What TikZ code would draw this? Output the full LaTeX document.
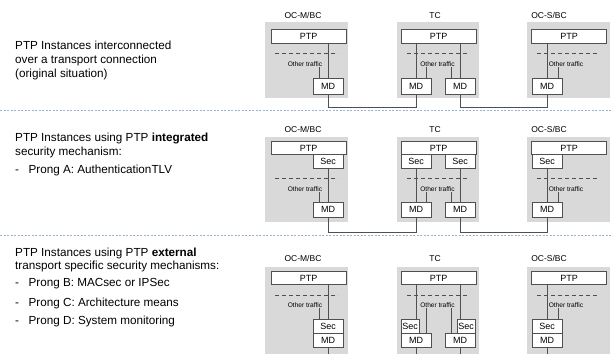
\documentclass[tikz,border=0pt]{standalone}
\usepackage{fontspec}
\setmainfont{Liberation Sans}
\usepackage{tikz}
\usetikzlibrary{calc}
\definecolor{devgrey}{HTML}{D9D9D9}
\definecolor{linegrey}{HTML}{505050}
\definecolor{sepblue}{HTML}{9DB3CC}
\tikzset{%
devbox/.style={fill=devgrey,inner sep=0pt,minimum width=83pt},%
blk/.style={draw=linegrey,fill=white,inner sep=0pt,line width=0.6pt,font=\fontsize{9}{10}\selectfont},%
ptpblk/.style={blk,minimum width=75pt,minimum height=13pt},%
mdblk/.style={blk,minimum width=30pt,minimum height=15pt},%
secblk/.style={blk,minimum width=30pt,minimum height=14pt},%
wire/.style={linegrey,line width=0.7pt},%
trafficline/.style={linegrey,line width=0.7pt,dash pattern=on 4pt off 3pt},%
othertxt/.style={inner sep=0pt,font=\fontsize{6.6}{8}\selectfont},%
unitlabel/.style={anchor=base,inner sep=0pt,font=\fontsize{8.5}{10}\selectfont},%
leftline/.style={anchor=base west,inner sep=0pt,font=\fontsize{11.7}{14}\selectfont},%
sepline/.style={sepblue,line width=0.6pt,dash pattern=on 2pt off 1.5pt},%
}
\begin{document}
\begin{tikzpicture}[x=1pt,y=-1pt]%
\useasboundingbox (0,0) rectangle (613,354);%
\coordinate (bot) at (0,354);%
\draw[sepline] (0,110) -- (613,110);%
\draw[sepline] (0,235) -- (613,235);%
\node[leftline] (r1a) at (15,49) {PTP Instances interconnected};%
\node[leftline] (r1b) at (15,63.5) {over a transport connection};%
\node[leftline] (r1c) at (15,77) {(original situation)};%
\node[leftline] (r2a) at (15,141) {PTP Instances using PTP \textbf{integrated}};%
\node[leftline] (r2b) at (15,155) {security mechanism:};%
\node[leftline] (r2c) at (15,173) {-\hspace{9.5pt}Prong A: AuthenticationTLV};%
\node[leftline] (r3a) at (15,256) {PTP Instances using PTP \textbf{external}};%
\node[leftline] (r3b) at (15,269) {transport specific security mechanisms:};%
\node[leftline] (r3c) at (15,286) {-\hspace{9.5pt}Prong B: MACsec or IPSec};%
\node[leftline] (r3d) at (15,306) {-\hspace{9.5pt}Prong C: Architecture means};%
\node[leftline] (r3e) at (15,324) {-\hspace{9.5pt}Prong D: System monitoring};%
\node[unitlabel] (m1lbl) at (303,18) {OC-M/BC};%
\node[unitlabel] (t1lbl) at (435,18) {TC};%
\node[unitlabel] (s1lbl) at (549,18) {OC-S/BC};%
\node[devbox,minimum height=76pt] (m1) at (306.5,60) {};%
\node[devbox,minimum height=76pt,minimum width=82pt] (t1) at (438,60) {};%
\node[devbox,minimum height=76pt] (s1) at (568.5,60) {};%
\node[ptpblk,minimum height=14pt] (m1ptp) at (308.5,36) {PTP};%
\node[ptpblk,minimum height=14pt] (t1ptp) at (438.5,36) {PTP};%
\node[ptpblk,minimum height=14pt] (s1ptp) at (569,36) {PTP};%
\draw[trafficline] (275,53) -- (338,53);%
\draw[trafficline] (407,53) -- (468,53);%
\draw[trafficline] (537,53) -- (598,53);%
\node[othertxt] (m1ot) at (305,64) {Other traffic};%
\node[othertxt] (t1ot) at (437.5,64) {Other traffic};%
\node[othertxt] (s1ot) at (566,64) {Other traffic};%
\node[mdblk,minimum height=16pt] (m1md) at (328,86) {MD};%
\node[mdblk,minimum height=16pt] (t1mdl) at (416,86) {MD};%
\node[mdblk,minimum height=16pt] (t1mdr) at (460,86) {MD};%
\node[mdblk,minimum height=16pt] (s1md) at (547,86) {MD};%
\draw[wire] (m1md.north) -- (m1md.north |- m1ptp.south);%
\draw[wire] (t1mdl.north) -- (t1mdl.north |- t1ptp.south);%
\draw[wire] (t1mdr.north) -- (t1mdr.north |- t1ptp.south);%
\draw[wire] (s1md.north) -- (s1md.north |- s1ptp.south);%
\draw[wire] ([xshift=-9pt]m1md.north) -- ([xshift=-9pt]m1md.north |- m1ot.south);%
\draw[wire] ([xshift=10pt]t1mdl.north) -- ([xshift=10pt]t1mdl.north |- t1ot.south);%
\draw[wire] ([xshift=-9pt]t1mdr.north) -- ([xshift=-9pt]t1mdr.north |- t1ot.south);%
\draw[wire] ([xshift=11pt]s1md.north) -- ([xshift=11pt]s1md.north |- s1ot.south);%
\draw[wire] (m1md.south) -- ++(0,13) -| (t1mdl.south);%
\draw[wire] (t1mdr.south) -- ++(0,13) -| (s1md.south);%
\node[unitlabel] (m2lbl) at (303,132) {OC-M/BC};%
\node[unitlabel] (t2lbl) at (435,132) {TC};%
\node[unitlabel] (s2lbl) at (549,132) {OC-S/BC};%
\node[devbox,minimum height=85pt] (m2) at (306.5,179.5) {};%
\node[devbox,minimum height=85pt,minimum width=82pt] (t2) at (438,179.5) {};%
\node[devbox,minimum height=85pt] (s2) at (568.5,179.5) {};%
\node[ptpblk] (m2ptp) at (308.5,148) {PTP};%
\node[ptpblk] (t2ptp) at (438.5,148) {PTP};%
\node[ptpblk] (s2ptp) at (569,148) {PTP};%
\node[secblk] (m2sec) at (328,161.5) {Sec};%
\node[secblk] (t2secl) at (416,161.5) {Sec};%
\node[secblk] (t2secr) at (460,161.5) {Sec};%
\node[secblk] (s2sec) at (547,161.5) {Sec};%
\draw[trafficline] (275,178) -- (338,178);%
\draw[trafficline] (407,178) -- (468,178);%
\draw[trafficline] (537,178) -- (598,178);%
\node[othertxt] (m2ot) at (305,189) {Other traffic};%
\node[othertxt] (t2ot) at (437.5,189) {Other traffic};%
\node[othertxt] (s2ot) at (566,189) {Other traffic};%
\node[mdblk] (m2md) at (328,209.5) {MD};%
\node[mdblk] (t2mdl) at (416,209.5) {MD};%
\node[mdblk] (t2mdr) at (460,209.5) {MD};%
\node[mdblk] (s2md) at (547,209.5) {MD};%
\draw[wire] (m2sec.south) -- (m2md.north);%
\draw[wire] (t2secl.south) -- (t2mdl.north);%
\draw[wire] (t2secr.south) -- (t2mdr.north);%
\draw[wire] (s2sec.south) -- (s2md.north);%
\draw[wire] ([xshift=-9pt]m2md.north) -- ([xshift=-9pt]m2md.north |- m2ot.south);%
\draw[wire] ([xshift=10pt]t2mdl.north) -- ([xshift=10pt]t2mdl.north |- t2ot.south);%
\draw[wire] ([xshift=-9pt]t2mdr.north) -- ([xshift=-9pt]t2mdr.north |- t2ot.south);%
\draw[wire] ([xshift=11pt]s2md.north) -- ([xshift=11pt]s2md.north |- s2ot.south);%
\draw[wire] (m2md.south) -- ++(0,15) -| (t2mdl.south);%
\draw[wire] (t2mdr.south) -- ++(0,15) -| (s2md.south);%
\node[unitlabel] (m3lbl) at (303,261) {OC-M/BC};%
\node[unitlabel] (t3lbl) at (435,261) {TC};%
\node[unitlabel] (s3lbl) at (549,261) {OC-S/BC};%
\node[devbox,minimum height=87pt] (m3) at (306.5,310.5) {};%
\node[devbox,minimum height=87pt,minimum width=82pt] (t3) at (438,310.5) {};%
\node[devbox,minimum height=87pt] (s3) at (568.5,310.5) {};%
\node[ptpblk] (m3ptp) at (308.5,278) {PTP};%
\node[ptpblk] (t3ptp) at (438.5,278) {PTP};%
\node[ptpblk] (s3ptp) at (569,278) {PTP};%
\draw[trafficline] (275,295) -- (338,295);%
\draw[trafficline] (407,295) -- (468,295);%
\draw[trafficline] (537,295) -- (598,295);%
\node[othertxt] (m3ot) at (305,305) {Other traffic};%
\node[othertxt] (t3ot) at (437.5,305) {Other traffic};%
\node[othertxt] (s3ot) at (566,305) {Other traffic};%
\node[secblk] (m3sec) at (328,326) {Sec};%
\node[secblk,minimum width=18pt] (t3secl) at (410,326) {Sec};%
\node[secblk,minimum width=18pt] (t3secr) at (466,326) {Sec};%
\node[secblk] (s3sec) at (547,326) {Sec};%
\node[mdblk,minimum height=14pt] (m3md) at (328,340) {MD};%
\node[mdblk,minimum height=14pt] (t3mdl) at (416,340) {MD};%
\node[mdblk,minimum height=14pt] (t3mdr) at (460,340) {MD};%
\node[mdblk,minimum height=14pt] (s3md) at (547,340) {MD};%
\draw[wire] (m3sec.north) -- (m3sec.north |- m3ptp.south);%
\draw[wire] (t3secl.north -| t3mdl) -- (t3ptp.south -| t3mdl);%
\draw[wire] (t3secr.north -| t3mdr) -- (t3ptp.south -| t3mdr);%
\draw[wire] (s3sec.north) -- (s3sec.north |- s3ptp.south);%
\draw[wire] ([xshift=-9pt]m3sec.north) -- ([xshift=-9pt]m3sec.north |- m3ot.south);%
\draw[wire] ([xshift=10pt]t3mdl.north) -- ([xshift=10pt]t3mdl.north |- t3ot.south);%
\draw[wire] ([xshift=-9pt]t3mdr.north) -- ([xshift=-9pt]t3mdr.north |- t3ot.south);%
\draw[wire] ([xshift=11pt]s3sec.north) -- ([xshift=11pt]s3sec.north |- s3ot.south);%
\draw[wire] (m3md.south) -- (m3md.south |- bot);%
\draw[wire] (t3mdl.south) -- (t3mdl.south |- bot);%
\draw[wire] (t3mdr.south) -- (t3mdr.south |- bot);%
\draw[wire] (s3md.south) -- (s3md.south |- bot);%
\end{tikzpicture}
\end{document}
